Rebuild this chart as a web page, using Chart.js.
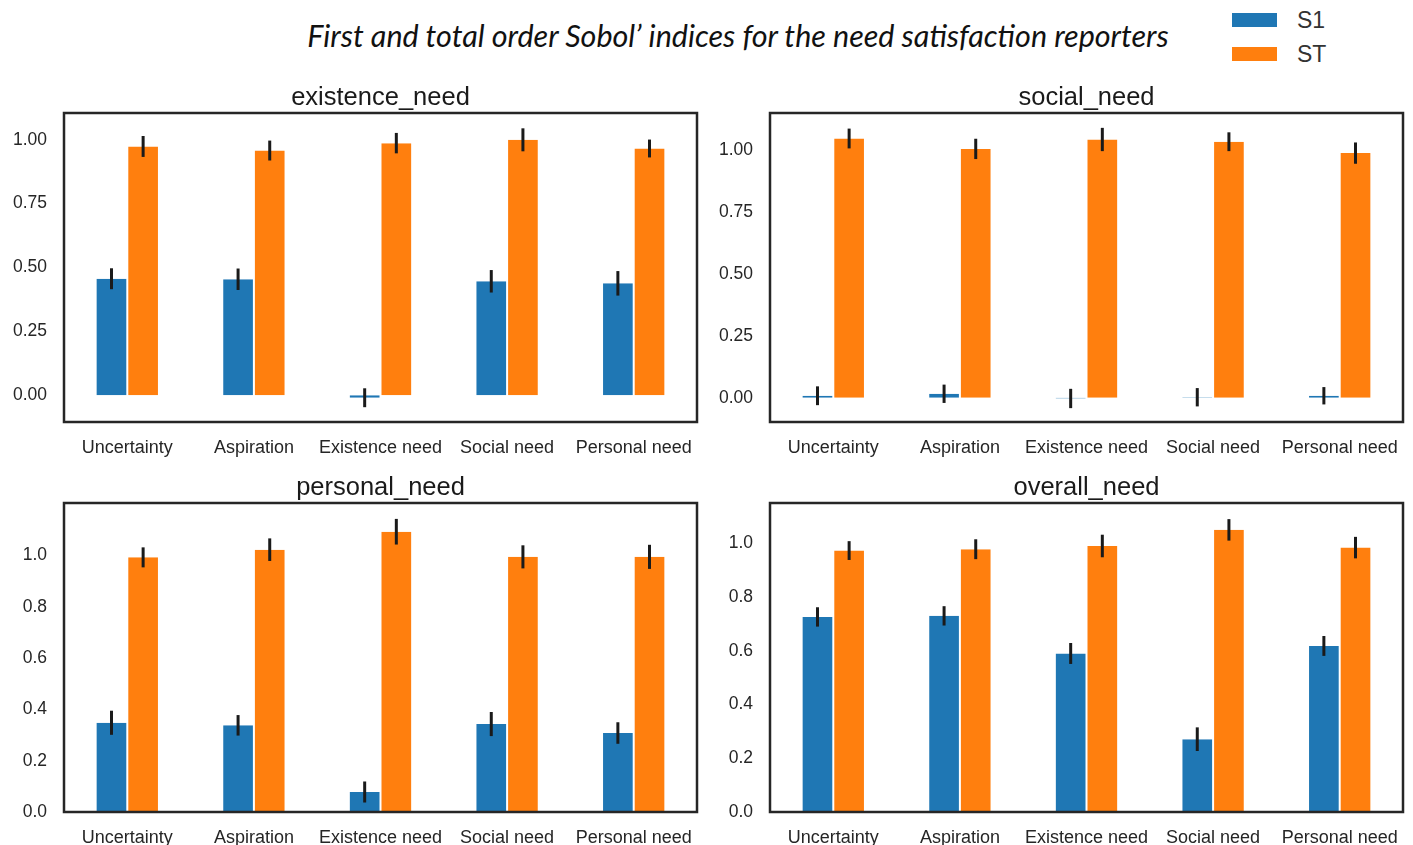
<!DOCTYPE html>
<html>
<head>
<meta charset="utf-8">
<title>Sobol indices</title>
<script src="https://cdn.jsdelivr.net/npm/chart.js@4.4.1/dist/chart.umd.min.js"></script>
<style>
  body { margin: 0; background: #fff; width: 1413px; height: 845px; overflow: hidden; position: relative; font-family: "Liberation Sans", Arial, sans-serif; }
  canvas { position: absolute; }
  #mainTitle { position: absolute; left: 738px; top: 17px; transform: translateX(-50%); white-space: nowrap;
    font-family: Lato, "Open Sans", sans-serif; font-style: italic; font-size: 30.5px; color: #111; }
  .key { position: absolute; left: 1232px; width: 45px; height: 14px; }
  .keyText { position: absolute; left: 1297px; font-size: 23px; color: #333; line-height: 26px; }
</style>
</head>
<body>
<div id="mainTitle">First and total order Sobol’ indices for the need satisfaction reporters</div>
<div class="key" style="top:13px;background:#1f77b4"></div>
<div class="keyText" style="top:7px">S1</div>
<div class="key" style="top:47px;background:#ff7f0e"></div>
<div class="keyText" style="top:41px">ST</div>

<canvas id="existence"></canvas>
<canvas id="social"></canvas>
<canvas id="personal"></canvas>
<canvas id="overall"></canvas>

<script>
// === Data ===
const categories = ['Uncertainty', 'Aspiration', 'Existence need', 'Social need', 'Personal need'];

const existenceS1 = [0.456, 0.454, -0.01, 0.446, 0.438];
const existenceS1Err = [0.041, 0.042, 0.037, 0.044, 0.048];
const existenceST = [0.974, 0.958, 0.987, 1.0, 0.966];
const existenceSTErr = [0.041, 0.039, 0.04, 0.045, 0.035];

const socialS1 = [0.008, 0.016, -0.003, 0.002, 0.008];
const socialS1Err = [0.038, 0.037, 0.039, 0.037, 0.035];
const socialST = [1.047, 1.005, 1.043, 1.034, 0.988];
const socialSTErr = [0.04, 0.041, 0.047, 0.038, 0.043];

const personalS1 = [0.348, 0.338, 0.078, 0.343, 0.308];
const personalS1Err = [0.047, 0.04, 0.041, 0.047, 0.042];
const personalST = [0.993, 1.023, 1.093, 0.995, 0.995];
const personalSTErr = [0.039, 0.044, 0.05, 0.045, 0.047];

const overallS1 = [0.726, 0.73, 0.59, 0.271, 0.618];
const overallS1Err = [0.036, 0.036, 0.039, 0.044, 0.037];
const overallST = [0.973, 0.978, 0.99, 1.05, 0.984];
const overallSTErr = [0.035, 0.037, 0.042, 0.04, 0.04];

const ticksQuarter = [0, 0.25, 0.5, 0.75, 1.0];
const ticksFifth = [0, 0.2, 0.4, 0.6, 0.8, 1.0];

// === Plugins ===
const errorBars = {
  id: 'errorBars',
  afterDatasetsDraw(chart) {
    const ctx = chart.ctx;
    const yScale = chart.scales.y;
    ctx.save();
    ctx.strokeStyle = '#1a1a1a';
    ctx.lineWidth = 3;
    chart.data.datasets.forEach((ds, i) => {
      chart.getDatasetMeta(i).data.forEach((bar, j) => {
        const v = ds.data[j], e = ds.errors[j];
        ctx.beginPath();
        ctx.moveTo(bar.x, yScale.getPixelForValue(v + e));
        ctx.lineTo(bar.x, yScale.getPixelForValue(v - e));
        ctx.stroke();
      });
    });
    ctx.restore();
  }
};

const frameAndTitle = {
  id: 'frameAndTitle',
  afterDraw(chart, args, opts) {
    const { ctx, chartArea: a } = chart;
    ctx.save();
    ctx.strokeStyle = '#262626';
    ctx.lineWidth = 2.5;
    ctx.strokeRect(a.left, a.top, a.right - a.left, a.bottom - a.top);
    ctx.fillStyle = '#1a1a1a';
    ctx.font = '25.5px "Liberation Sans", Arial, sans-serif';
    ctx.textAlign = 'center';
    ctx.textBaseline = 'middle';
    ctx.fillText(opts.text, (a.left + a.right) / 2, a.top - 15);
    ctx.restore();
  }
};

// === Panel builder ===
function makePanel(id, title, s1, s1Err, st, stErr, box, bottomLimit, yMin, yMax, yTicks, decimals) {
  const canvas = document.getElementById(id);
  const padTop = 40, padRight = 14, axisW = 64;
  const canvasTop = box.y0 - padTop;
  canvas.width = box.x1 - box.x0 + axisW + padRight;
  canvas.height = bottomLimit - canvasTop;
  canvas.style.left = (box.x0 - axisW) + 'px';
  canvas.style.top = canvasTop + 'px';
  const xAxisH = canvas.height - padTop - (box.y1 - box.y0);

  const barStyle = {
    borderColor: '#ffffff',
    borderWidth: { left: 1, right: 1, top: 0, bottom: 0 },
    borderSkipped: false,
    categoryPercentage: 0.5,
    barPercentage: 1.0
  };

  new Chart(canvas, {
    type: 'bar',
    data: {
      labels: categories,
      datasets: [
        { label: 'S1', data: s1, errors: s1Err, backgroundColor: '#1f77b4', ...barStyle },
        { label: 'ST', data: st, errors: stErr, backgroundColor: '#ff7f0e', ...barStyle }
      ]
    },
    options: {
      responsive: false,
      animation: false,
      devicePixelRatio: 1,
      layout: { padding: { top: padTop, right: padRight, left: 0, bottom: 0 } },
      plugins: {
        legend: { display: false },
        tooltip: { enabled: false },
        frameAndTitle: { text: title }
      },
      scales: {
        x: {
          grid: { display: false, drawTicks: false },
          border: { display: false },
          ticks: { padding: 15, maxRotation: 0, autoSkip: false, color: '#262626',
                   font: { family: '"Liberation Sans", Arial, sans-serif', size: 18 } },
          afterFit(scale) { scale.height = xAxisH; }
        },
        y: {
          min: yMin,
          max: yMax,
          grid: { display: false, drawTicks: false },
          border: { display: false },
          ticks: { padding: 17, color: '#262626',
                   font: { family: '"Liberation Sans", Arial, sans-serif', size: 17.5 },
                   callback: v => v.toFixed(decimals) },
          afterBuildTicks(scale) { scale.ticks = yTicks.map(v => ({ value: v })); },
          afterFit(scale) { scale.width = axisW; }
        }
      }
    },
    plugins: [errorBars, frameAndTitle]
  });
}

makePanel('existence', 'existence_need', existenceS1, existenceS1Err, existenceST, existenceSTErr,
  { x0: 64, y0: 113, x1: 697, y1: 422 }, 466, -0.105, 1.105, ticksQuarter, 2);
makePanel('social', 'social_need', socialS1, socialS1Err, socialST, socialSTErr,
  { x0: 770, y0: 113, x1: 1403, y1: 422 }, 466, -0.098, 1.15, ticksQuarter, 2);
makePanel('personal', 'personal_need', personalS1, personalS1Err, personalST, personalSTErr,
  { x0: 64, y0: 503, x1: 697, y1: 812 }, 845, 0, 1.205, ticksFifth, 1);
makePanel('overall', 'overall_need', overallS1, overallS1Err, overallST, overallSTErr,
  { x0: 770, y0: 503, x1: 1403, y1: 812 }, 845, 0, 1.15, ticksFifth, 1);
</script>
</body>
</html>
